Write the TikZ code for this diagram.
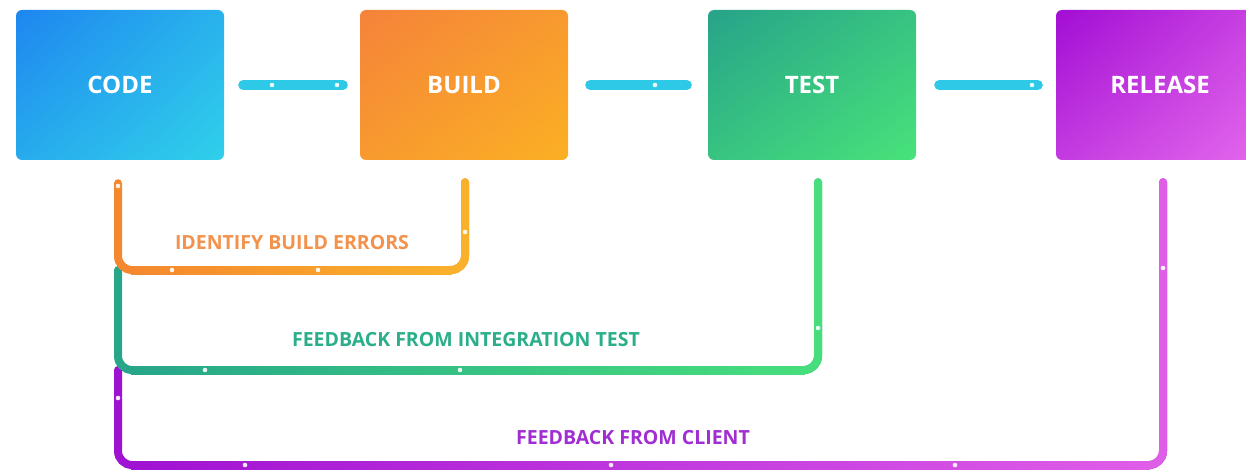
\documentclass[tikz,border=0pt]{standalone}
\usepackage{fontspec}
\setmainfont{Open Sans}
\usetikzlibrary{shadings}
\definecolor{cdA}{HTML}{1E86F0}
\definecolor{cdB}{HTML}{30D0EA}
\definecolor{bdA}{HTML}{F5833A}
\definecolor{bdB}{HTML}{FBB024}
\definecolor{tsA}{HTML}{27A389}
\definecolor{tsB}{HTML}{48E37A}
\definecolor{rlA}{HTML}{A20DD4}
\definecolor{rlB}{HTML}{E468EC}
\definecolor{cyanline}{HTML}{2DC9E7}
\definecolor{orA}{HTML}{F5882F}
\definecolor{orB}{HTML}{F9B12B}
\definecolor{grA}{HTML}{27A68A}
\definecolor{grB}{HTML}{46DE7C}
\definecolor{puA}{HTML}{A012D2}
\definecolor{puB}{HTML}{DF5EE8}
\definecolor{orT}{HTML}{F2924C}
\definecolor{grT}{HTML}{2BAF8A}
\definecolor{puT}{HTML}{A02ED2}
\begin{document}
\begin{tikzpicture}[x=1pt,y=-1pt,
  box/.style={rectangle, rounded corners=6pt, minimum width=208pt, minimum height=150pt,
    text=white, font=\bfseries\fontsize{24}{24}\selectfont, shade},
  conn/.style={draw=cyanline, line width=10pt, line cap=round},
  fb/.style={line width=8pt, line cap=round, rounded corners=14pt},
  lbl/.style={font=\bfseries\fontsize{19.5}{20}\selectfont}
]
\useasboundingbox (0,0) rectangle (1246,473);

\node[box, upper left=cdA, upper right=cdB!60!cdA, lower left=cdA!50!cdB, lower right=cdB] (code) at (120,85) {CODE};
\node[box, upper left=bdA, upper right=bdB!50!bdA, lower left=bdA!50!bdB, lower right=bdB] (build) at (464,85) {BUILD};
\node[box, upper left=tsA, upper right=tsB!50!tsA, lower left=tsA!50!tsB, lower right=tsB] (test) at (812,85) {TEST};
\node[box, upper left=rlA, upper right=rlB!60!rlA, lower left=rlA!50!rlB, lower right=rlB] (release) at (1160,85) {RELEASE};

% connectors between stages
\draw[conn] ([xshift=19pt]code.east) -- ([xshift=-17pt]build.west);
\draw[conn] ([xshift=22pt]build.east) -- ([xshift=-21pt]test.west);
\draw[conn] ([xshift=23pt]test.east) -- ([xshift=-18pt]release.west);

% purple loop
\coordinate (pstart) at ([xshift=3pt,yshift=-22pt]release.south);
\draw[fb, draw=puA] (pstart) |- (118,465) -- (118,370);
\draw[fb, draw=puB] (pstart) |- (1140,465);
\shade[left color=puA, right color=puB] (131,461) rectangle (1150,469);

% green loop
\coordinate (gstart) at ([xshift=6pt,yshift=-22pt]test.south);
\draw[fb, draw=grA] (gstart) |- (118,370) -- (118,270);
\draw[fb, draw=grB] (gstart) |- (790,370);
\shade[left color=grA, right color=grB] (131,366) rectangle (805,374);

% orange loop
\coordinate (ostart) at ([xshift=-2pt,yshift=-23pt]code.south);
\coordinate (oend) at ([xshift=1pt,yshift=-22pt]build.south);
\draw[fb, draw=orA] (ostart) |- (465,270) -- (oend);
\draw[fb, draw=orB] (oend) |- (440,270);
\shade[left color=orA, right color=orB] (131,266) rectangle (452,274);

% glints
\foreach \x/\y in {272/85, 337/85, 655/85, 1032/85,
                   118/186, 172/270, 318/270, 465/232,
                   205/370, 460/370, 818/328,
                   118/398, 245/465, 611/465, 955/465, 1163/268}
  \fill[white, opacity=.9] (\x,\y) circle (2.3pt);

% labels
\node[lbl, text=orT] (l1) at (292,243) {IDENTIFY BUILD ERRORS};
\node[lbl, text=grT] (l2) at (466,340) {FEEDBACK FROM INTEGRATION TEST};
\node[lbl, text=puT] (l3) at (633,438) {FEEDBACK FROM CLIENT};
\end{tikzpicture}
\end{document}
